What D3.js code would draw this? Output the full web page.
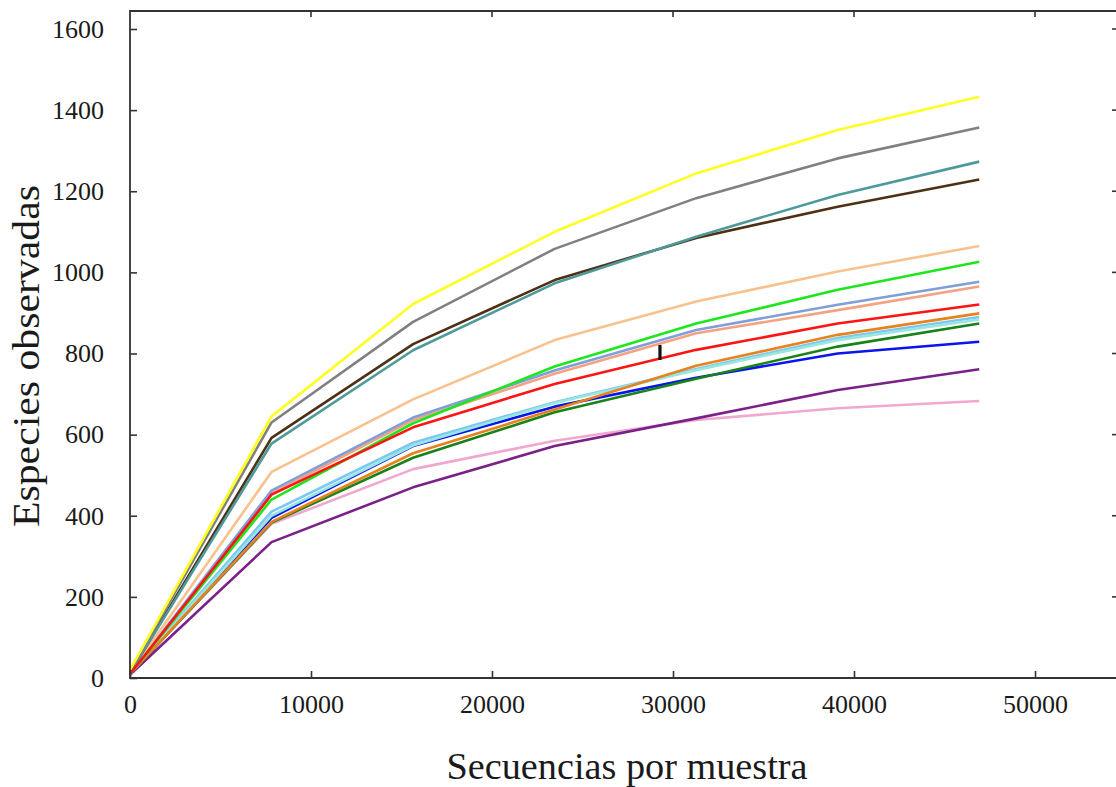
<!DOCTYPE html>
<html>
<head>
<meta charset="utf-8">
<script src="https://cdn.jsdelivr.net/npm/d3@7"></script>
<style>
  html, body { margin: 0; padding: 0; background: #fff; }
  svg { display: block; }
  text { font-family: "Liberation Serif", "Times New Roman", serif; fill: #1a1a1a; }
</style>
</head>
<body>
<svg id="chart" width="1116" height="787"></svg>
<script>
// Rarefaction curves: observed species vs. sequences per sample
const depths = [0, 7820, 15640, 23460, 31280, 39100, 46920];

const yellowSeries     = [20, 645, 922, 1100, 1244, 1351, 1433];
const graySeries       = [15, 630, 878, 1058, 1183, 1281, 1357];
const tealSeries       = [12, 578, 808, 973, 1088, 1191, 1273];
const brownSeries      = [12, 592, 823, 981, 1085, 1162, 1229];
const peachSeries      = [12, 508, 687, 833, 928, 1002, 1065];
const greenSeries      = [10, 440, 628, 768, 874, 957, 1026];
const cornflowerSeries = [10, 462, 642, 758, 858, 920, 977];
const salmonSeries     = [10, 455, 636, 750, 850, 907, 965];
const orangeSeries     = [10, 385, 554, 662, 770, 846, 899];
const turquoiseSeries  = [10, 400, 573, 678, 759, 833, 884];
const skyblueSeries    = [10, 410, 580, 680, 762, 838, 890];
const darkgreenSeries  = [10, 383, 543, 655, 738, 817, 874];
const blueSeries       = [10, 395, 572, 669, 740, 800, 829];
const redSeries        = [10, 452, 618, 725, 809, 874, 921];
const purpleSeries     = [8, 335, 470, 572, 640, 710, 761];
const pinkSeries       = [10, 380, 515, 585, 636, 665, 683];

const seriesColors = ["#f0a8d0", "#7a2088", "#0a14ee", "#1a821a", "#7cc8f0", "#98e6e0",
  "#e8821e", "#f4a282", "#7f9fd8", "#1ee61e", "#f8c28e", "#4e3014", "#4e9a9a",
  "#808080", "#ffff22", "#ff1414"];
const seriesValues = [pinkSeries, purpleSeries, blueSeries, darkgreenSeries, skyblueSeries,
  turquoiseSeries, orangeSeries, salmonSeries, cornflowerSeries, greenSeries, peachSeries,
  brownSeries, tealSeries, graySeries, yellowSeries, redSeries];

const xTicks = [0, 10000, 20000, 30000, 40000, 50000];
const yTicks = [0, 200, 400, 600, 800, 1000, 1200, 1400, 1600];

// short black marker on the red curve
const markerX = 29280;
const markerY = [784, 821];

const xTitle = "Secuencias por muestra";
const yTitle = "Especies observadas";

const svg = d3.select("#chart");
const plotLeft = 130, plotBottom = 678, plotTop = 11, plotRight = 1119;

const x = d3.scaleLinear().domain([0, 50000]).range([plotLeft, 1035]);
const y = d3.scaleLinear().domain([0, 1600]).range([plotBottom, 29]);

const line = d3.line().x((d, i) => x(depths[i])).y(d => y(d));

const curves = svg.append("g").attr("fill", "none").attr("stroke-linejoin", "round");
seriesValues.forEach((vals, i) => {
  curves.append("path")
    .attr("d", line(vals))
    .attr("stroke", seriesColors[i])
    .attr("stroke-width", 2.6);
});

svg.append("line")
  .attr("x1", x(markerX)).attr("x2", x(markerX))
  .attr("y1", y(markerY[0])).attr("y2", y(markerY[1]))
  .attr("stroke", "#111").attr("stroke-width", 3.2);

// frame
const frame = svg.append("g").attr("stroke", "#333").attr("stroke-width", 1.8).attr("fill", "none");
frame.append("path").attr("d", `M${plotRight},${plotTop}H${plotLeft}V${plotBottom}H${plotRight}`);

// axes with inward ticks
const yAxis = svg.append("g").attr("transform", `translate(${plotLeft},0)`)
  .call(d3.axisLeft(y).tickValues(yTicks).tickFormat(d3.format("d"))
    .tickSizeInner(-7).tickSizeOuter(0).tickPadding(26));
const xAxis = svg.append("g").attr("transform", `translate(0,${plotBottom})`)
  .call(d3.axisBottom(x).tickValues(xTicks).tickFormat(d3.format("d"))
    .tickSizeInner(-7).tickSizeOuter(0).tickPadding(17));
[yAxis, xAxis].forEach(g => {
  g.select(".domain").remove();
  g.selectAll(".tick line").attr("stroke", "#333").attr("stroke-width", 1.6);
  g.selectAll(".tick text").attr("font-size", 26).attr("fill", "#1a1a1a")
    .style("font-family", "'Liberation Serif', serif");
});

// mirrored ticks on top and right edges
svg.append("g").selectAll("line").data(xTicks.slice(1)).join("line")
  .attr("x1", d => x(d)).attr("x2", d => x(d))
  .attr("y1", plotTop).attr("y2", plotTop + 6)
  .attr("stroke", "#333").attr("stroke-width", 1.6);
svg.append("g").selectAll("line").data(yTicks.slice(1)).join("line")
  .attr("x1", plotRight - 7).attr("x2", plotRight)
  .attr("y1", d => y(d)).attr("y2", d => y(d))
  .attr("stroke", "#333").attr("stroke-width", 1.6);

// titles
svg.append("text")
  .attr("x", 627).attr("y", 779)
  .attr("text-anchor", "middle")
  .attr("font-size", 37)
  .attr("textLength", 361)
  .attr("lengthAdjust", "spacingAndGlyphs")
  .text(xTitle);
svg.append("text")
  .attr("transform", "translate(39,356) rotate(-90)")
  .attr("text-anchor", "middle")
  .attr("font-size", 37)
  .attr("textLength", 342)
  .attr("lengthAdjust", "spacingAndGlyphs")
  .text(yTitle);
</script>
</body>
</html>
